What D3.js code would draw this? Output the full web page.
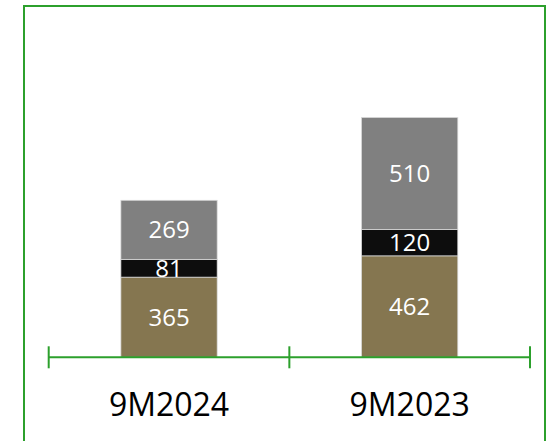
<!DOCTYPE html>
<html>
<head>
<meta charset="utf-8">
<script src="https://cdn.jsdelivr.net/npm/d3@7"></script>
<style>
  html, body { margin: 0; padding: 0; background: #fff; }
  svg { display: block; }
</style>
</head>
<body>
<svg id="chart" width="555" height="441"></svg>
<script>
// Data
const periods    = ["9M2024", "9M2023"];
const seriesKeys = ["bottom", "middle", "top"];
const bottomVals = [365, 462];
const middleVals = [81, 120];
const topVals    = [269, 510];
const colors     = { bottom: "#857650", middle: "#0d0d0d", top: "#808080" };

const rows = periods.map((p, i) => ({
  period: p, bottom: bottomVals[i], middle: middleVals[i], top: topVals[i]
}));

const svg   = d3.select("#chart");
const green = "#2ca02c";

// Outer frame (runs off the bottom edge)
svg.append("rect")
  .attr("x", 24).attr("y", 6)
  .attr("width", 521).attr("height", 460)
  .attr("fill", "none")
  .attr("stroke", green)
  .attr("stroke-width", 2);

// Scales
const axisL = 48.7, axisR = 530;
const x = d3.scaleBand()
  .domain(periods)
  .range([axisL, axisR])
  .paddingInner(0.6)
  .paddingOuter(0.3);

const y = d3.scaleLinear()
  .domain([0, 1400])
  .range([357.3, 357.3 - 1400 * 0.2196]);

const stack = d3.stack().keys(seriesKeys)(rows);

// Bars
const layer = svg.append("g").selectAll("g")
  .data(stack)
  .join("g")
    .attr("fill", d => colors[d.key]);

layer.selectAll("rect")
  .data(d => d)
  .join("rect")
    .attr("x", d => x(d.data.period))
    .attr("y", d => y(d[1]))
    .attr("width", x.bandwidth())
    .attr("height", d => y(d[0]) - y(d[1]))
    .attr("stroke", "#d9d9d9")
    .attr("stroke-width", 0.75);

// Value labels
layer.selectAll("text")
  .data(d => d.map(v => Object.assign({ key: d.key }, v)))
  .join("text")
    .attr("x", d => x(d.data.period) + x.bandwidth() / 2)
    .attr("y", d => (y(d[0]) + y(d[1])) / 2)
    .attr("dy", "0.36em")
    .attr("text-anchor", "middle")
    .attr("fill", "#fff")
    .attr("font-family", "'Open Sans', sans-serif")
    .attr("font-size", 24)
    .text(d => d.data[d.key]);

// Category axis with outside ticks at the band edges
const axisY = y(0);
const edges = [axisL, (axisL + axisR) / 2, axisR];
svg.append("line")
  .attr("x1", axisL).attr("x2", axisR)
  .attr("y1", axisY).attr("y2", axisY)
  .attr("stroke", green).attr("stroke-width", 2);
svg.selectAll("line.tick")
  .data(edges)
  .join("line")
    .attr("class", "tick")
    .attr("x1", d => d).attr("x2", d => d)
    .attr("y1", axisY - 11).attr("y2", axisY + 11)
    .attr("stroke", green).attr("stroke-width", 2);

// Category labels
svg.selectAll("text.cat")
  .data(periods)
  .join("text")
    .attr("class", "cat")
    .attr("x", d => x(d) + x.bandwidth() / 2)
    .attr("y", 416)
    .attr("text-anchor", "middle")
    .attr("font-family", "'Open Sans', sans-serif")
    .attr("font-size", 32)
    .attr("fill", "#000")
    .text(d => d);
</script>
</body>
</html>
